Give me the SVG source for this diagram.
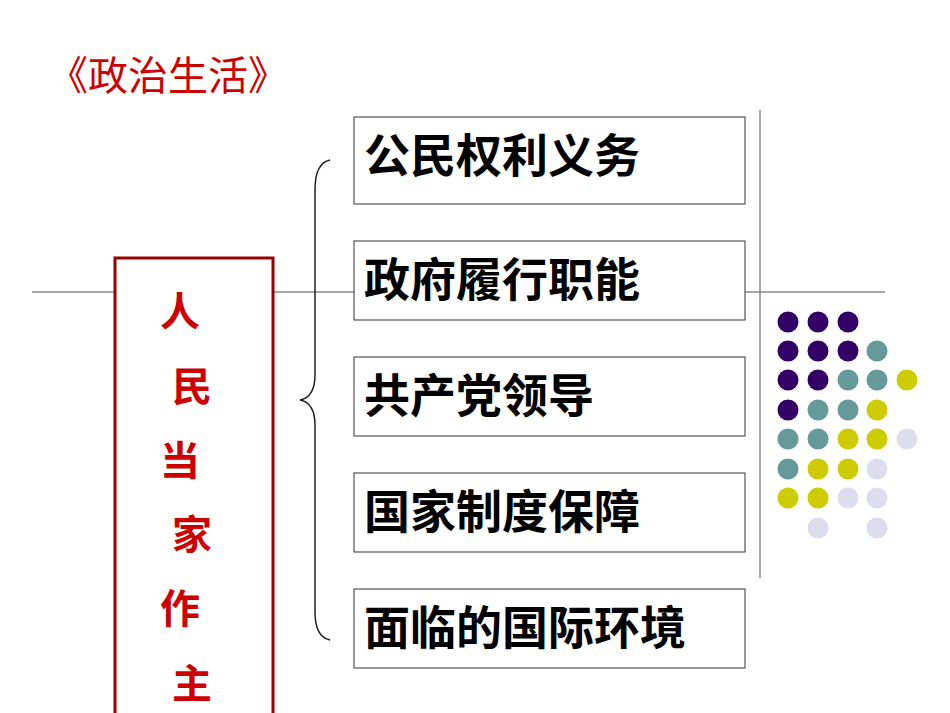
<svg xmlns="http://www.w3.org/2000/svg" width="950" height="713" viewBox="0 0 950 713">
<style>
.b{fill:#fff;stroke:#333;stroke-width:1}
.t{font-family:"Liberation Sans","Noto Sans CJK SC",sans-serif;font-weight:bold;font-size:46px;fill:#000}
.r{font-family:"Liberation Sans","Noto Sans CJK SC",sans-serif;font-weight:bold;font-size:40px;fill:#cc0000}
.P{fill:#330066}.T{fill:#669999}.Y{fill:#cccc00}.L{fill:#ddddee}
</style>
<rect width="950" height="713" fill="#fff"/>
<g id="connectors" fill="none" stroke="#888" stroke-width="1.5">
<line x1="32" y1="292" x2="885" y2="292"/>
<line x1="760" y1="110" x2="760" y2="578"/>
<path d="M330,160 Q315,163 315,190 L315,375 Q315,397 300,400 Q315,403 315,425 L315,612 Q315,637 330,640" stroke="#222"/>
</g>
<text x="48" y="90" font-family="Liberation Sans,Noto Sans CJK SC,sans-serif" font-size="40" fill="#cc0000">《政治生活》</text>
<g id="main"><rect x="115" y="258" width="158" height="460" fill="#fff" stroke="#990000" stroke-width="3"/>
<text class="r" x="160" y="326">人</text><text class="r" x="172" y="401">民</text><text class="r" x="160" y="475">当</text><text class="r" x="172" y="549">家</text><text class="r" x="160" y="623">作</text><text class="r" x="172" y="698">主</text></g>
<g id="n1"><rect class="b" x="354" y="117" width="391" height="87"/><text class="t" x="364" y="172">公民权利义务</text></g>
<g id="n2"><rect class="b" x="354" y="241" width="391" height="79"/><text class="t" x="364" y="296">政府履行职能</text></g>
<g id="n3"><rect class="b" x="354" y="357" width="391" height="79"/><text class="t" x="364" y="412">共产党领导</text></g>
<g id="n4"><rect class="b" x="354" y="473" width="391" height="79"/><text class="t" x="364" y="528">国家制度保障</text></g>
<g id="n5"><rect class="b" x="354" y="589" width="391" height="79"/><text class="t" x="364" y="644">面临的国际环境</text></g>
<g id="dots">
<circle class="P" cx="788" cy="322" r="10.5"/><circle class="P" cx="818" cy="322" r="10.5"/><circle class="P" cx="848" cy="322" r="10.5"/>
<circle class="P" cx="788" cy="351" r="10.5"/><circle class="P" cx="818" cy="351" r="10.5"/><circle class="P" cx="848" cy="351" r="10.5"/><circle class="T" cx="877" cy="351" r="10.5"/>
<circle class="P" cx="788" cy="380" r="10.5"/><circle class="P" cx="818" cy="380" r="10.5"/><circle class="T" cx="848" cy="380" r="10.5"/><circle class="T" cx="877" cy="380" r="10.5"/><circle class="Y" cx="907" cy="380" r="10.5"/>
<circle class="P" cx="788" cy="410" r="10.5"/><circle class="T" cx="818" cy="410" r="10.5"/><circle class="T" cx="848" cy="410" r="10.5"/><circle class="Y" cx="877" cy="410" r="10.5"/>
<circle class="T" cx="788" cy="439" r="10.5"/><circle class="T" cx="818" cy="439" r="10.5"/><circle class="Y" cx="848" cy="439" r="10.5"/><circle class="Y" cx="877" cy="439" r="10.5"/><circle class="L" cx="907" cy="439" r="10.5"/>
<circle class="T" cx="788" cy="469" r="10.5"/><circle class="Y" cx="818" cy="469" r="10.5"/><circle class="Y" cx="848" cy="469" r="10.5"/><circle class="L" cx="877" cy="469" r="10.5"/>
<circle class="Y" cx="788" cy="498" r="10.5"/><circle class="Y" cx="818" cy="498" r="10.5"/><circle class="L" cx="848" cy="498" r="10.5"/><circle class="L" cx="877" cy="498" r="10.5"/>
<circle class="L" cx="818" cy="528" r="10.5"/><circle class="L" cx="877" cy="528" r="10.5"/>
</g>
</svg>
